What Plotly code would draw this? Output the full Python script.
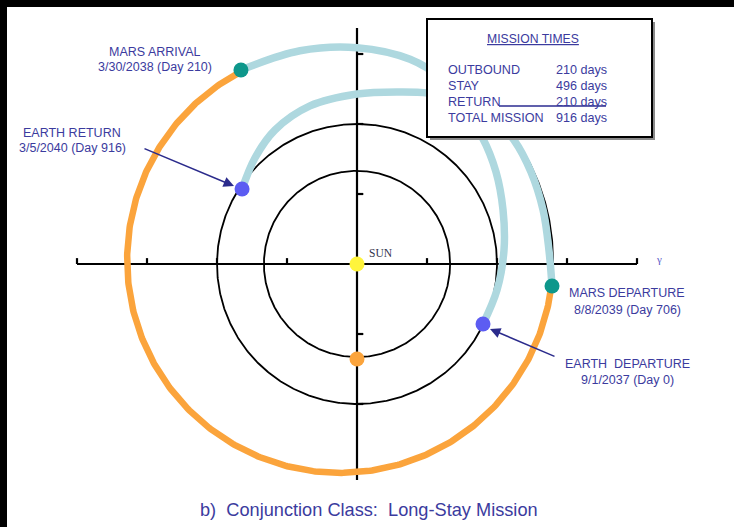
import numpy as np
import plotly.graph_objects as go

# ---------------- data (AU, Sun at origin) ----------------
orbit_radii = [0.665, 1.0]            # inner orbit, Earth orbit
mars_center = [-0.121, 0.029]
mars_radius = 1.521

event_labels = ["EARTH  DEPARTURE", "MARS ARRIVAL", "MARS DEPARTURE", "EARTH RETURN"]
event_dates = ["9/1/2037", "3/30/2038", "8/8/2039", "3/5/2040"]
event_days = [0, 210, 706, 916]
event_x = [0.900, -0.829, 1.393, -0.821]
event_y = [-0.429, 1.386, -0.157, 0.536]
event_color = ["#5c5cf2", "#0e978b", "#0e978b", "#5c5cf2"]

flyby_x = [0.0]
flyby_y = [-0.679]

outbound_x = [0.900, 1.000, 1.050, 1.043, 0.993, 0.893, 0.736, 0.593, 0.379, 0.0, -0.407, -0.829]
outbound_y = [-0.429, -0.186, 0.100, 0.386, 0.657, 0.907, 1.136, 1.329, 1.462, 1.545, 1.523, 1.386]
return_x = [1.393, 1.371, 1.329, 1.243, 1.121, 0.950, 0.736, 0.507, 0.307, 0.0, -0.336, -0.586, -0.729, -0.821]
return_y = [-0.157, 0.100, 0.386, 0.657, 0.886, 1.071, 1.171, 1.221, 1.229, 1.214, 1.129, 0.957, 0.757, 0.536]

x_ticks = [-2.0, -1.5, -1.0, -0.5, 0.5, 1.0, 1.5, 2.0]
y_ticks = [-1.0, -0.5, 0.5, 1.0, 1.5]
y_axis_span = [-1.543, 1.686]

mission_legs = ["OUTBOUND", "STAY", "RETURN", "TOTAL MISSION"]
mission_days = [210, 496, 210, 916]

title = "b)  Conjunction Class:  Long-Stay Mission"

# ---------------- layout helpers ----------------
S = 140.0          # pixels per AU
OX, OY = 357, 264  # Sun pixel position
W, H = 734, 527
ML, MT = 7, 7


def P(px, py):
    return (px - OX) / S, (OY - py) / S


NAVY = "#3b3b9e"
ORANGE = "#fba43c"
TEAL = "#aed8df"
FONT = "Liberation Sans, Arial, sans-serif"

fig = go.Figure()

th = np.linspace(0, 2 * np.pi, 721)
# orbits
for r in orbit_radii:
    fig.add_trace(go.Scatter(x=r * np.cos(th), y=r * np.sin(th), mode="lines",
                             line=dict(color="black", width=1.8), hoverinfo="skip"))
fig.add_trace(go.Scatter(x=mars_center[0] + mars_radius * np.cos(th),
                         y=mars_center[1] + mars_radius * np.sin(th), mode="lines",
                         line=dict(color="black", width=1.8), hoverinfo="skip"))

# axes with ticks
ax_x, ax_y = [x_ticks[0], x_ticks[-1], None, 0, 0, None], [0, 0, None, y_axis_span[0], y_axis_span[1], None]
for t in x_ticks:
    ax_x += [t, t, None]
    ax_y += [0, 0.042, None]
for t in y_ticks:
    ax_x += [0, 0.045, None]
    ax_y += [t, t, None]
fig.add_trace(go.Scatter(x=ax_x, y=ax_y, mode="lines", line=dict(color="black", width=2.2),
                         hoverinfo="skip"))

# Mars stay arc (orange)
a_arr = np.arctan2(event_y[1] - mars_center[1], event_x[1] - mars_center[0])
a_dep = np.arctan2(event_y[2] - mars_center[1], event_x[2] - mars_center[0])
ta = np.linspace(a_arr, a_dep + 2 * np.pi, 400)
fig.add_trace(go.Scatter(x=mars_center[0] + mars_radius * np.cos(ta),
                         y=mars_center[1] + mars_radius * np.sin(ta), mode="lines",
                         line=dict(color=ORANGE, width=6.5), hoverinfo="skip"))

# transfer trajectories
for xs, ys in [(outbound_x, outbound_y), (return_x, return_y)]:
    fig.add_trace(go.Scatter(x=xs, y=ys, mode="lines", line=dict(color=TEAL, width=7.5, shape="spline"),
                             hoverinfo="skip"))

# markers
fig.add_trace(go.Scatter(x=event_x, y=event_y, mode="markers",
                         marker=dict(size=15, color=event_color, line=dict(width=0))))
fig.add_trace(go.Scatter(x=flyby_x, y=flyby_y, mode="markers",
                         marker=dict(size=15, color=ORANGE, line=dict(width=0))))
fig.add_trace(go.Scatter(x=[0], y=[0], mode="markers",
                         marker=dict(size=15, color="#fff43c", line=dict(width=0))))

shapes = []
# mission times box with shadow
x0, y0 = P(430, 22)
x1, y1 = P(655, 140)
shapes.append(dict(type="rect", xref="x", yref="y", x0=x0, y0=y0, x1=x1, y1=y1,
                   fillcolor="#8a8a8a", line=dict(width=0), layer="above"))
x0, y0 = P(427, 19)
x1, y1 = P(652, 137)
shapes.append(dict(type="rect", xref="x", yref="y", x0=x0, y0=y0, x1=x1, y1=y1,
                   fillcolor="white", line=dict(color="black", width=2), layer="above"))
x0, y0 = P(499, 106)
x1, y1 = P(606, 106)
shapes.append(dict(type="line", xref="x", yref="y", x0=x0, y0=y0, x1=x1, y1=y1,
                   line=dict(color="#2b2b90", width=1.5), layer="above"))

ann = []


def txt(text, px, py, size=12.5, anchor="center", color=NAVY, family=FONT):
    x, y = P(px, py)
    ann.append(dict(x=x, y=y, xref="x", yref="y", text=text, showarrow=False,
                    xanchor=anchor, yanchor="middle",
                    font=dict(size=size, color=color, family=family)))


label_pos = {0: (627, 364, 380), 1: (155, 52, 67), 2: (627, 293, 310), 3: (72, 133, 148)}
for i, (cx, l1, l2) in label_pos.items():
    txt(event_labels[i], cx, l1)
    txt(f"{event_dates[i]} (Day {event_days[i]})", cx, l2)

txt("SUN", 381, 253, size=11.5, color="#33334d", family="Liberation Serif, Times New Roman, serif")
txt("γ", 659, 259, size=11, color="#5a5ac8", family="Liberation Serif, serif")
txt(title, 369, 510, size=18.2)

txt("<u>MISSION TIMES</u>", 533, 39, size=12.2)
rows_y = [70, 86, 102, 118]
for leg, d, ry in zip(mission_legs, mission_days, rows_y):
    txt(leg, 446, ry, size=12.6, anchor="left")
    txt(f"{d} days", 554, ry, size=12.6, anchor="left")

# arrows
for head, tail in [((234, 186), (143, 148)), ((490, 329), (556, 357))]:
    hx, hy = P(*head)
    tx, ty = P(*tail)
    ann.append(dict(x=hx, y=hy, ax=tx, ay=ty, xref="x", yref="y", axref="x", ayref="y",
                    text="", showarrow=True, arrowhead=2, arrowsize=1.3, arrowwidth=1.6,
                    arrowcolor="#2b2b8c"))

fig.update_layout(
    width=W, height=H, showlegend=False,
    margin=dict(l=ML, t=MT, r=0, b=0, pad=0),
    paper_bgcolor="black", plot_bgcolor="white",
    xaxis=dict(range=[(ML - OX) / S, (W - OX) / S], visible=False, fixedrange=True),
    yaxis=dict(range=[(OY - H) / S, (OY - MT) / S], visible=False, fixedrange=True),
    shapes=shapes, annotations=ann, hovermode=False,
)

fig.write_html("out.html", config={"displayModeBar": False, "staticPlot": True},
               post_script="document.body.style.margin='0';document.body.style.overflow='hidden';")
